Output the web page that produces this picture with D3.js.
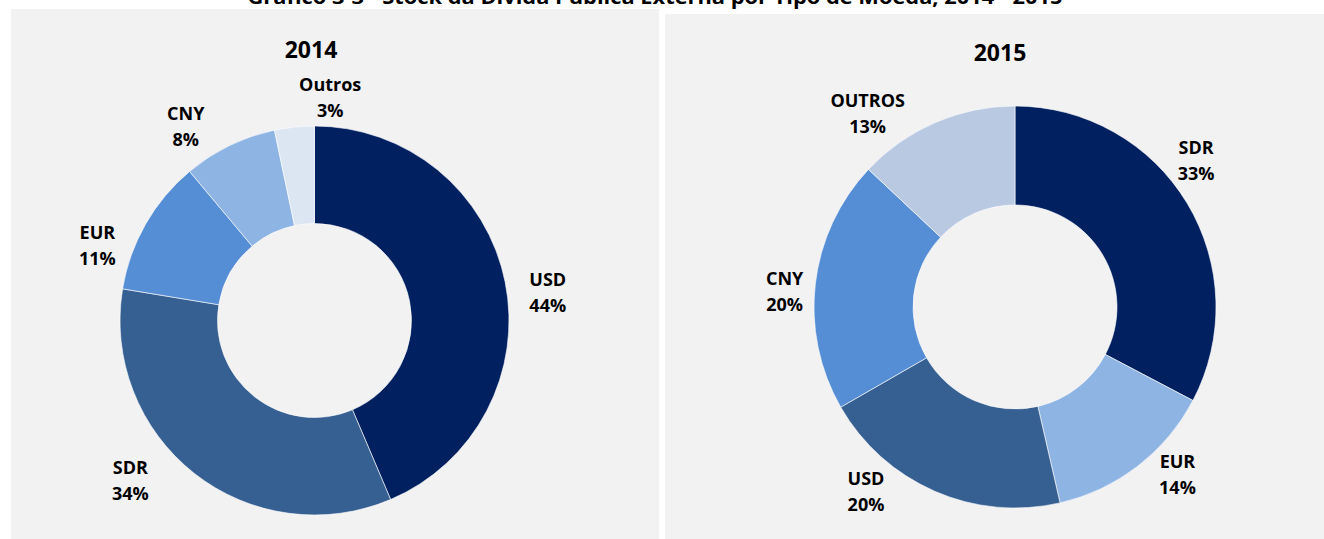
<!DOCTYPE html>
<html>
<head>
<meta charset="utf-8">
<script src="https://cdn.jsdelivr.net/npm/d3@7"></script>
<style>
  html, body { margin: 0; padding: 0; background: #ffffff; }
  svg { display: block; }
  text { font-family: "Open Sans", "DejaVu Sans", sans-serif; font-weight: bold; fill: #000; }
</style>
</head>
<body>
<svg id="chart" width="1324" height="539"></svg>
<script>
// ---------- data ----------
const mainTitle = "Gráfico 3-3 - Stock da Dívida Pública Externa por Tipo de Moeda, 2014 - 2015";

const years = ["2014", "2015"];

const categories2014 = ["USD", "SDR", "EUR", "CNY", "Outros"];
const values2014     = [43.6, 34.0, 11.3, 7.8, 3.3];
const labels2014     = ["44%", "34%", "11%", "8%", "3%"];

const categories2015 = ["SDR", "EUR", "USD", "CNY", "OUTROS"];
const values2015     = [32.7, 13.7, 20.3, 20.3, 13.0];
const labels2015     = ["33%", "14%", "20%", "20%", "13%"];

// ---------- styles / layout ----------
const colors2014 = ["#002060", "#376092", "#558ED5", "#8EB4E3", "#DCE6F2"];
const colors2015 = ["#002060", "#8EB4E3", "#376092", "#558ED5", "#B9C9E2"];

const svg = d3.select("#chart");

// main title (cut at top of image, as in the reference)
svg.append("text")
  .attr("x", 655).attr("y", 4)
  .attr("text-anchor", "middle")
  .attr("font-size", 19)
  .attr("textLength", 815)
  .attr("lengthAdjust", "spacingAndGlyphs")
  .text(mainTitle);

const panels = [
  { x: 11, y: 9, w: 648, h: 530,
    cx: 314.5, cy: 320.5, r: 194.5, ri: 97, titleX: 311, titleY: 58,
    cats: categories2014, vals: values2014, labs: labels2014, cols: colors2014,
    nudges: [[3, 18], [-39, -25], [-13, 41], [-26, 17], [40, 10]] },
  { x: 665, y: 14, w: 659, h: 525,
    cx: 1015, cy: 307, r: 201, ri: 102, titleX: 1000, titleY: 61,
    cats: categories2015, vals: values2015, labs: labels2015, cols: colors2015,
    nudges: [[-20, -25], [19, -19], [-55, -31], [3, 11], [-54, 22]] }
];

panels.forEach((p, i) => {
  const g = svg.append("g");
  g.append("rect")
    .attr("x", p.x).attr("y", p.y).attr("width", p.w).attr("height", p.h)
    .attr("fill", "#F2F2F2");

  g.append("text")
    .attr("x", p.titleX).attr("y", p.titleY)
    .attr("text-anchor", "middle")
    .attr("font-size", 23)
    .text(years[i]);

  const data = p.cats.map((c, k) => ({ cat: c, value: p.vals[k], label: p.labs[k], color: p.cols[k] }));
  const pie = d3.pie().sort(null).value(d => d.value);
  const arcs = pie(data);
  const arc = d3.arc().innerRadius(p.ri).outerRadius(p.r);
  const labelArc = d3.arc().innerRadius(235).outerRadius(235);

  const cg = g.append("g").attr("transform", `translate(${p.cx},${p.cy})`);
  cg.selectAll("path.slice")
    .data(arcs)
    .enter().append("path")
    .attr("class", "slice")
    .attr("d", arc)
    .attr("fill", d => d.data.color)
    .attr("stroke", "#ffffff")
    .attr("stroke-width", 0.6);

  const lg = cg.selectAll("g.lbl")
    .data(arcs)
    .enter().append("g")
    .attr("class", "lbl")
    .attr("transform", (d, k) => {
      const c = labelArc.centroid(d);
      return `translate(${c[0] + p.nudges[k][0]},${c[1] + p.nudges[k][1]})`;
    });
  lg.append("text")
    .attr("text-anchor", "middle")
    .attr("font-size", 18)
    .attr("y", -6)
    .text(d => d.data.cat);
  lg.append("text")
    .attr("text-anchor", "middle")
    .attr("font-size", 18)
    .attr("y", 20)
    .text(d => d.data.label);
});
</script>
</body>
</html>
